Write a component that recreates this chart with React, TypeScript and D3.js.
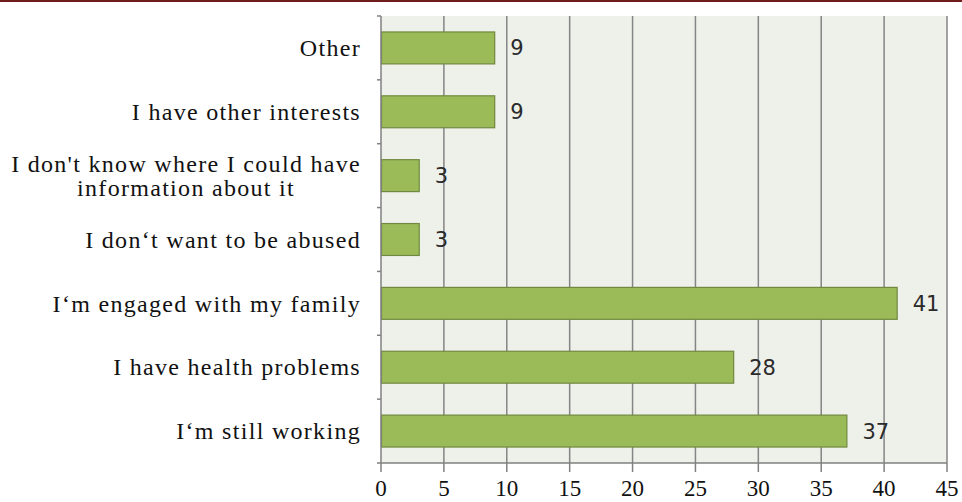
import React, { useEffect, useRef } from "react";
import * as d3 from "d3";

const categories: string[][] = [
  ["Other"],
  ["I have other interests"],
  ["I don't know where I could have", "information about it"],
  ["I don‘t want to be abused"],
  ["I‘m engaged with my family"],
  ["I have health problems"],
  ["I‘m still working"],
];
const values: number[] = [9, 9, 3, 3, 41, 28, 37];
const xTicks: number[] = [0, 5, 10, 15, 20, 25, 30, 35, 40, 45];

const W = 962;
const H = 502;
const M = { left: 381, right: 15, top: 16, bottom: 39 };

export default function App() {
  const ref = useRef<SVGSVGElement>(null);

  useEffect(() => {
    const svg = d3.select(ref.current);
    svg.selectAll("*").remove();

    const x = d3.scaleLinear().domain([0, 45]).range([M.left, W - M.right]);
    const keys = categories.map((_, i) => String(i));
    const y = d3
      .scaleBand<string>()
      .domain(keys)
      .range([M.top, H - M.bottom])
      .paddingInner(0.5)
      .paddingOuter(0.25);

    svg.append("rect").attr("x", 0).attr("y", 0).attr("width", W).attr("height", H).attr("fill", "#ffffff");
    // top dark red rule
    svg.append("rect").attr("x", 0).attr("y", 0).attr("width", W).attr("height", 2).attr("fill", "#6e1c1c");

    // plot background
    svg
      .append("rect")
      .attr("x", x(0))
      .attr("y", M.top)
      .attr("width", x(45) - x(0))
      .attr("height", H - M.bottom - M.top)
      .attr("fill", "#eef0ea");

    // gridlines
    svg
      .append("g")
      .selectAll("line")
      .data(xTicks.slice(1))
      .join("line")
      .attr("x1", (d) => x(d))
      .attr("x2", (d) => x(d))
      .attr("y1", M.top)
      .attr("y2", H - M.bottom)
      .attr("stroke", "#858585")
      .attr("stroke-width", 1.5);

    // bars
    svg
      .append("g")
      .selectAll("rect")
      .data(values)
      .join("rect")
      .attr("x", x(0) + 0.5)
      .attr("y", (_, i) => y(String(i))!)
      .attr("width", (d) => x(d) - x(0))
      .attr("height", y.bandwidth())
      .attr("fill", "#9bbb59")
      .attr("stroke", "#71893f")
      .attr("stroke-width", 1.2);

    // value labels
    svg
      .append("g")
      .selectAll("text")
      .data(values)
      .join("text")
      .attr("x", (d) => x(d) + 16)
      .attr("y", (_, i) => y(String(i))! + y.bandwidth() / 2)
      .attr("dy", "0.36em")
      .attr("font-family", "DejaVu Sans")
      .attr("font-size", 21)
      .attr("fill", "#2a2a2a")
      .text((d) => String(d));

    // y axis line & ticks
    const yAxis = svg.append("g");
    yAxis
      .append("line")
      .attr("x1", x(0))
      .attr("x2", x(0))
      .attr("y1", M.top)
      .attr("y2", H - M.bottom)
      .attr("stroke", "#808080")
      .attr("stroke-width", 1.5);
    const step = y.step();
    const bounds = d3.range(categories.length + 1).map((i) => M.top + i * step);
    yAxis
      .selectAll("line.tk")
      .data(bounds)
      .join("line")
      .attr("class", "tk")
      .attr("x1", x(0) - 4)
      .attr("x2", x(0))
      .attr("y1", (d) => d)
      .attr("y2", (d) => d)
      .attr("stroke", "#808080")
      .attr("stroke-width", 1.5);

    // x axis
    const xAxisY = H - M.bottom;
    const xAxis = svg.append("g");
    xAxis
      .append("line")
      .attr("x1", x(0))
      .attr("x2", x(45))
      .attr("y1", xAxisY)
      .attr("y2", xAxisY)
      .attr("stroke", "#808080")
      .attr("stroke-width", 1.5);
    xAxis
      .selectAll("line.tk")
      .data(xTicks)
      .join("line")
      .attr("class", "tk")
      .attr("x1", (d) => x(d))
      .attr("x2", (d) => x(d))
      .attr("y1", xAxisY)
      .attr("y2", xAxisY + 9)
      .attr("stroke", "#808080")
      .attr("stroke-width", 1.5);
    xAxis
      .selectAll("text")
      .data(xTicks)
      .join("text")
      .attr("x", (d) => x(d))
      .attr("y", 496)
      .attr("text-anchor", "middle")
      .attr("font-family", "Liberation Serif")
      .attr("font-size", 23)
      .attr("fill", "#111")
      .text((d) => String(d));

    // category labels
    const labelX = 361;
    const lineH = 24;
    const fs = 24;
    const ls = 1.3;
    categories.forEach((lines, i) => {
      const cy = y(String(i))! + y.bandwidth() / 2;
      const g = svg.append("g");
      if (lines.length === 1) {
        g.append("text")
          .attr("x", labelX)
          .attr("y", cy)
          .attr("dy", "0.34em")
          .attr("text-anchor", "end")
          .attr("font-family", "Liberation Serif")
          .attr("font-size", fs)
          .attr("letter-spacing", ls)
          .attr("fill", "#111")
          .text(lines[0]);
      } else {
        const texts = lines.map((t, k) =>
          g
            .append("text")
            .attr("y", cy + (k - (lines.length - 1) / 2) * lineH)
            .attr("dy", "0.34em")
            .attr("text-anchor", "middle")
            .attr("font-family", "Liberation Serif")
            .attr("font-size", fs)
            .attr("letter-spacing", ls)
            .attr("fill", "#111")
            .text(t)
        );
        const widths = texts.map((t) => (t.node() as SVGTextElement).getComputedTextLength());
        const maxW = Math.max(...widths);
        texts.forEach((t) => t.attr("x", labelX - maxW / 2));
      }
    });
  }, []);

  return (
    <div style={{ position: "absolute", left: 0, top: 0 }}>
      <svg ref={ref} width={W} height={H} style={{ display: "block" }} />
    </div>
  );
}
